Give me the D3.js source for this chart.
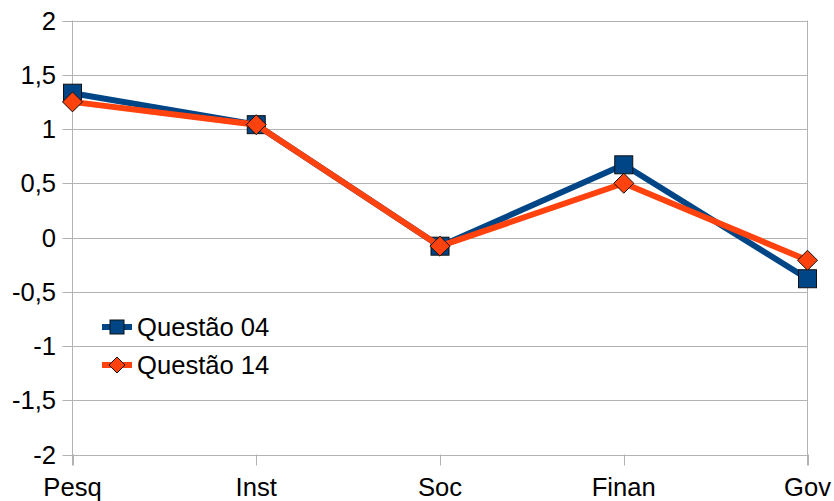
<!DOCTYPE html>
<html><head><meta charset="utf-8">
<script src="https://cdn.jsdelivr.net/npm/d3@7"></script>
<style>body{margin:0;background:#fff}svg{display:block}text{font-family:"Liberation Sans",Arial,sans-serif;fill:#000}</style>
</head><body><svg id="c" width="834" height="501"></svg>
<script>
const categories = ["Pesq","Inst","Soc","Finan","Gov"];
const q04 = [1.33, 1.04, -0.08, 0.67, -0.38];
const q14 = [1.25, 1.04, -0.08, 0.50, -0.21];
const seriesNames = ["Questão 04","Questão 14"];
const yTicks = [2,1.5,1,0.5,0,-0.5,-1,-1.5,-2];

const svg = d3.select("#c");
const pLeft = 72.5, pRight = 807.5, pTop = 20.5, pBottom = 454.5;
const x = d3.scalePoint().domain(categories).range([pLeft, pRight]);
const y = d3.scaleLinear().domain([-2, 2]).range([pBottom, pTop]);
const grid = "#b3b3b3";
const fs = 25.6;

// horizontal gridlines
svg.append("g").selectAll("line").data(yTicks).join("line")
  .attr("x1", pLeft - 10).attr("x2", pRight)
  .attr("y1", d => Math.round(y(d)) + 0.5).attr("y2", d => Math.round(y(d)) + 0.5)
  .attr("stroke", grid).attr("stroke-width", 1);
// vertical axis lines
[pLeft, pRight].forEach(xx => svg.append("line").attr("x1", xx).attr("x2", xx)
  .attr("y1", pTop).attr("y2", pBottom + 11).attr("stroke", grid));
// category ticks
svg.append("g").selectAll("line").data(categories).join("line")
  .attr("x1", d => Math.round(x(d)) + 0.5).attr("x2", d => Math.round(x(d)) + 0.5)
  .attr("y1", pBottom).attr("y2", pBottom + 11).attr("stroke", grid);

const fmt = d => String(d).replace(".", ",");
svg.append("g").selectAll("text").data(yTicks).join("text")
  .attr("x", 56).attr("y", d => y(d) + 9)
  .attr("text-anchor", "end").attr("font-size", fs).text(fmt);
svg.append("g").selectAll("text").data(categories).join("text")
  .attr("x", d => x(d)).attr("y", 496)
  .attr("text-anchor", "middle").attr("font-size", fs).text(d => d);

const line = d3.line().x((d, i) => x(categories[i])).y(d => y(d));
const blue = "#004586", orange = "#ff420e";

function square(g, cx, cy, s, col) {
  g.append("rect").attr("x", cx - s/2).attr("y", cy - s/2).attr("width", s).attr("height", s)
    .attr("fill", col).attr("stroke", "#111").attr("stroke-width", 1);
}
function diamond(g, cx, cy, s, col) {
  const h = s/2;
  g.append("path").attr("d", `M${cx},${cy-h}L${cx+h},${cy}L${cx},${cy+h}L${cx-h},${cy}Z`)
    .attr("fill", col).attr("stroke", "#111").attr("stroke-width", 1);
}

const g1 = svg.append("g");
g1.append("path").datum(q04).attr("d", line).attr("fill", "none")
  .attr("stroke", blue).attr("stroke-width", 6).attr("stroke-linejoin", "round");
q04.forEach((v, i) => square(g1, x(categories[i]), y(v), 18, blue));

const g2 = svg.append("g");
g2.append("path").datum(q14).attr("d", line).attr("fill", "none")
  .attr("stroke", orange).attr("stroke-width", 6).attr("stroke-linejoin", "round");
q14.forEach((v, i) => diamond(g2, x(categories[i]), y(v), 20, orange));

// legend
const lg = svg.append("g");
const ly = [327, 365];
lg.append("line").attr("x1", 102).attr("x2", 132).attr("y1", ly[0]).attr("y2", ly[0]).attr("stroke", blue).attr("stroke-width", 6);
square(lg, 117, ly[0], 14, blue);
lg.append("line").attr("x1", 102).attr("x2", 132).attr("y1", ly[1]).attr("y2", ly[1]).attr("stroke", orange).attr("stroke-width", 6);
diamond(lg, 117, ly[1], 16, orange);
seriesNames.forEach((n, i) => lg.append("text").attr("x", 137).attr("y", ly[i] + 9)
  .attr("font-size", fs).text(n));
</script></body></html>
